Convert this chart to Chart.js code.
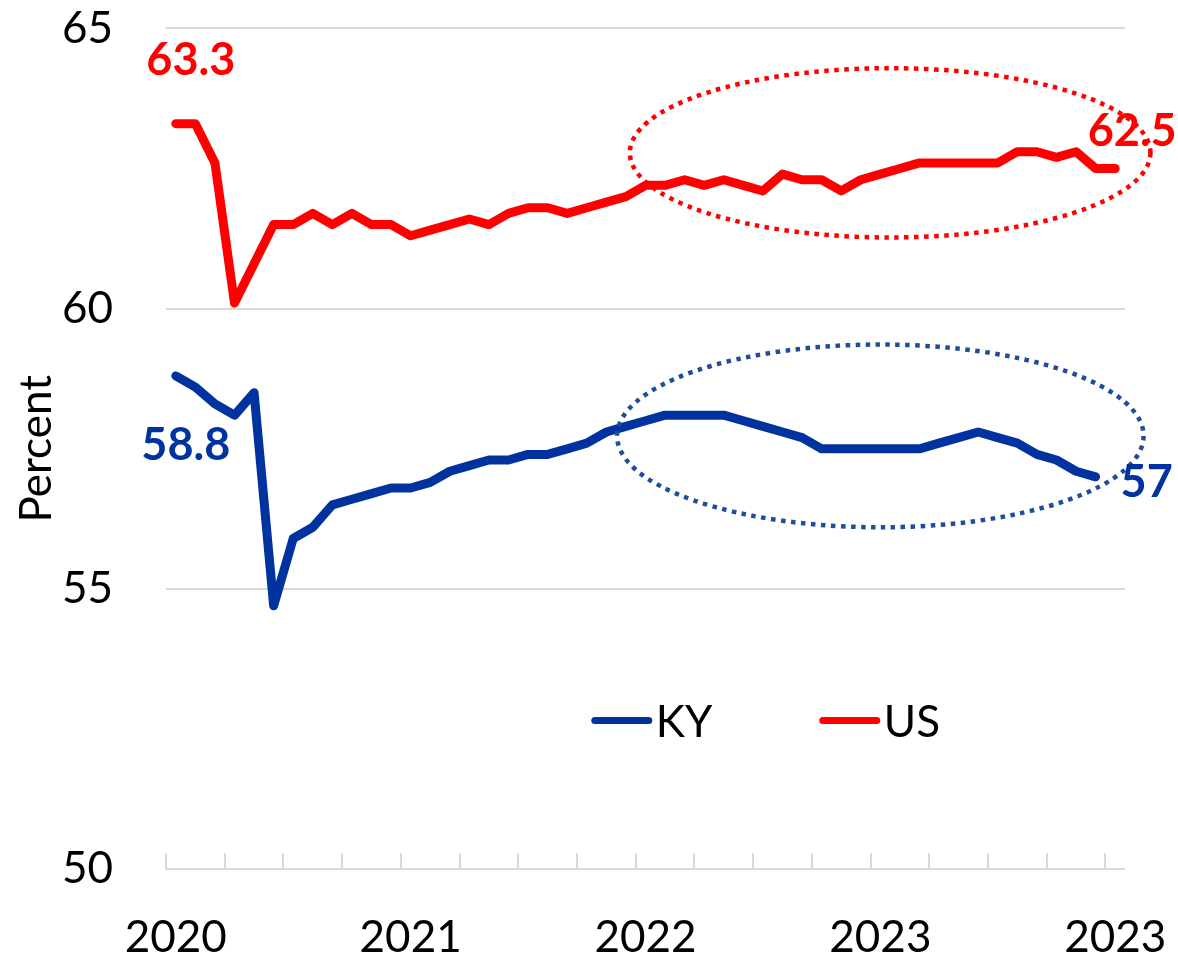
<!DOCTYPE html>
<html>
<head>
<meta charset="utf-8">
<script src="https://cdn.jsdelivr.net/npm/chart.js@4.4.1/dist/chart.umd.min.js"></script>
<style>
  body { margin: 0; background: #fff; }
  #wrap { width: 1178px; height: 966px; }
</style>
</head>
<body>
<div id="wrap"><canvas id="grafico"></canvas></div>
<script>
// monthly categories, Jan 2020 .. Jan 2024
const months = [
  'Jan 2020','Feb 2020','Mar 2020','Apr 2020','May 2020','Jun 2020','Jul 2020','Aug 2020','Sep 2020','Oct 2020','Nov 2020','Dec 2020',
  'Jan 2021','Feb 2021','Mar 2021','Apr 2021','May 2021','Jun 2021','Jul 2021','Aug 2021','Sep 2021','Oct 2021','Nov 2021','Dec 2021',
  'Jan 2022','Feb 2022','Mar 2022','Apr 2022','May 2022','Jun 2022','Jul 2022','Aug 2022','Sep 2022','Oct 2022','Nov 2022','Dec 2022',
  'Jan 2023','Feb 2023','Mar 2023','Apr 2023','May 2023','Jun 2023','Jul 2023','Aug 2023','Sep 2023','Oct 2023','Nov 2023','Dec 2023',
  'Jan 2024'
];
// labels shown on the x axis, one every 12 months
const yearLabels = ['2020', '2021', '2022', '2023', '2023'];

const kyValues = [
  58.8, 58.6, 58.3, 58.1, 58.5, 54.7, 55.9, 56.1, 56.5, 56.6, 56.7, 56.8,
  56.8, 56.9, 57.1, 57.2, 57.3, 57.3, 57.4, 57.4, 57.5, 57.6, 57.8, 57.9,
  58.0, 58.1, 58.1, 58.1, 58.1, 58.0, 57.9, 57.8, 57.7, 57.5, 57.5, 57.5,
  57.5, 57.5, 57.5, 57.6, 57.7, 57.8, 57.7, 57.6, 57.4, 57.3, 57.1, 57.0,
  null
];
const usValues = [
  63.3, 63.3, 62.6, 60.1, 60.8, 61.5, 61.5, 61.7, 61.5, 61.7, 61.5, 61.5,
  61.3, 61.4, 61.5, 61.6, 61.5, 61.7, 61.8, 61.8, 61.7, 61.8, 61.9, 62.0,
  62.2, 62.2, 62.3, 62.2, 62.3, 62.2, 62.1, 62.4, 62.3, 62.3, 62.1, 62.3,
  62.4, 62.5, 62.6, 62.6, 62.6, 62.6, 62.6, 62.8, 62.8, 62.7, 62.8, 62.5,
  62.5
];
const yTicks = [50, 55, 60, 65];

const KY_COLOR = '#0033a0';
const US_COLOR = '#ff0000';
const GRID = '#d9d9d9';
const FONT = 'Lato';

// dotted ellipses, given in data units (category index / percent)
const ellipses = [
  { cx: 36.5, cy: 62.78, rx: 13.3, ry: 1.51, color: '#ff0000' },
  { cx: 36.0, cy: 57.73, rx: 13.45, ry: 1.63, color: '#1f4e99' }
];

// value labels next to first/last points (offsets in px from the point)
const valueLabels = [
  { ds: 1, at: 'first', dx: 15, dy: -49 },
  { ds: 1, at: 'last', dx: 17, dy: -23 },
  { ds: 0, at: 'first', dx: 10, dy: 84 },
  { ds: 0, at: 'last', dx: 51, dy: 20 }
];

const extras = {
  id: 'extras',
  afterDraw(chart) {
    const ctx = chart.ctx;
    const xs = chart.scales.x, ys = chart.scales.y;
    const area = chart.chartArea;
    ctx.save();

    // tick marks on the axis, every 3 months, pointing up
    ctx.strokeStyle = GRID;
    ctx.lineWidth = 2;
    for (let k = 0; k < months.length; k += 3) {
      const px = Math.round(xs.getPixelForValue(k - 0.5));
      ctx.beginPath();
      ctx.moveTo(px, area.bottom);
      ctx.lineTo(px, area.bottom - 16);
      ctx.stroke();
    }

    // ellipses
    ellipses.forEach(e => {
      const cx = xs.getPixelForValue(e.cx);
      const cy = ys.getPixelForValue(e.cy);
      const rx = xs.getPixelForValue(e.cx + e.rx) - cx;
      const ry = cy - ys.getPixelForValue(e.cy + e.ry);
      ctx.beginPath();
      ctx.ellipse(cx, cy, rx, ry, 0, 0, Math.PI * 2);
      ctx.strokeStyle = e.color;
      ctx.lineWidth = 4.5;
      ctx.lineCap = 'butt';
      ctx.setLineDash([4.5, 5.5]);
      ctx.stroke();
    });
    ctx.setLineDash([]);

    // value labels
    ctx.font = 'bold 45px ' + FONT;
    ctx.textAlign = 'center';
    ctx.textBaseline = 'alphabetic';
    valueLabels.forEach(l => {
      const ds = chart.data.datasets[l.ds];
      const meta = chart.getDatasetMeta(l.ds);
      let idx = 0;
      if (l.at === 'last') {
        idx = ds.data.length - 1;
        while (ds.data[idx] === null) idx--;
      }
      const p = meta.data[idx];
      ctx.fillStyle = ds.borderColor;
      ctx.fillText(String(ds.data[idx]), p.x + l.dx, p.y + l.dy);
    });

    // legend inside the plot
    let lx = area.left + 0.444 * area.width;
    const ly = area.top + 0.823 * area.height;
    ctx.font = '44px ' + FONT;
    ctx.textAlign = 'left';
    ctx.textBaseline = 'middle';
    chart.data.datasets.forEach((ds, i) => {
      ctx.strokeStyle = ds.borderColor;
      ctx.lineWidth = 7;
      ctx.lineCap = 'round';
      ctx.beginPath();
      ctx.moveTo(lx + 3, ly);
      ctx.lineTo(lx + 57, ly);
      ctx.stroke();
      ctx.fillStyle = '#000';
      ctx.fillText(ds.label, lx + 64, ly + 2);
      lx += 228;
    });
    ctx.restore();
  }
};

new Chart(document.getElementById('grafico'), {
  type: 'line',
  data: {
    labels: months,
    datasets: [
      { label: 'KY', data: kyValues, borderColor: KY_COLOR, backgroundColor: KY_COLOR },
      { label: 'US', data: usValues, borderColor: US_COLOR, backgroundColor: US_COLOR }
    ]
  },
  options: {
    responsive: true,
    maintainAspectRatio: false,
    animation: false,
    layout: { padding: { left: 0, right: 53, top: 0, bottom: 0 } },
    elements: {
      line: { borderWidth: 9, tension: 0, borderJoinStyle: 'round', borderCapStyle: 'round' },
      point: { radius: 0, hoverRadius: 0 }
    },
    plugins: {
      legend: { display: false },
      tooltip: { enabled: false }
    },
    scales: {
      x: {
        type: 'category',
        offset: true,
        // invisible tick length just pushes the labels down
        grid: { display: false, drawTicks: true, tickLength: 40 },
        border: { display: false },
        ticks: {
          autoSkip: false,
          maxRotation: 0,
          padding: 2,
          color: '#000',
          font: { family: FONT, size: 44 },
          callback: (v, i) => (i % 12 === 0 ? yearLabels[i / 12] : '')
        }
      },
      y: {
        min: yTicks[0],
        max: yTicks[yTicks.length - 1],
        afterBuildTicks: s => { s.ticks = yTicks.map(v => ({ value: v })); },
        afterFit: s => { s.width = 166; },
        ticks: { padding: 2, color: '#000', font: { family: FONT, size: 44 } },
        grid: { color: GRID, lineWidth: 2, drawTicks: true, tickLength: 51, tickColor: 'rgba(0,0,0,0)' },
        border: { display: false },
        title: {
          display: true,
          text: 'Percent',
          color: '#000',
          font: { family: FONT, size: 44 },
          padding: { top: 10, bottom: 0 }
        }
      }
    }
  },
  plugins: [extras]
});
</script>
</body>
</html>
